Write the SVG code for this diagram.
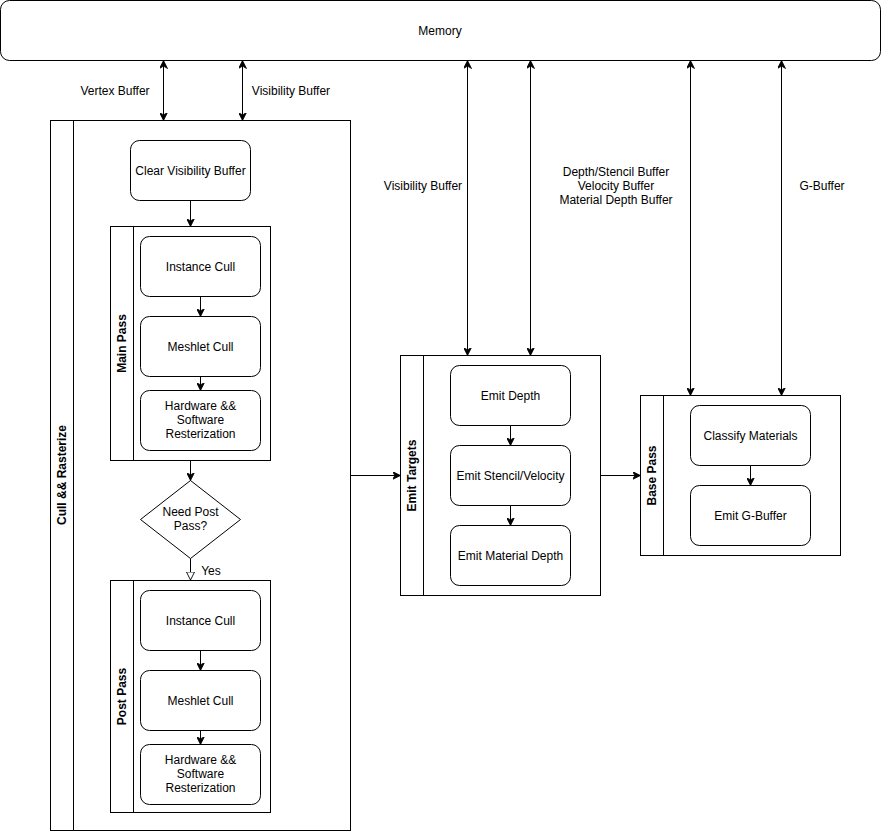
<svg xmlns="http://www.w3.org/2000/svg" width="882" height="832" viewBox="0 0 882 832">
<style>
.box{fill:#fff;stroke:#000;stroke-width:1}
.lane{fill:#fff;stroke:#000;stroke-width:1}
.t{font-family:"Liberation Sans",Arial,sans-serif;font-size:12px;fill:#000;text-anchor:middle}
.b{font-weight:bold}
.c{fill:none;stroke:#000;stroke-width:1}
</style>
<defs>
<marker id="ae" viewBox="0 0 10 10" refX="10" refY="5" markerWidth="8" markerHeight="8" markerUnits="userSpaceOnUse" orient="auto">
<path d="M0,0 L10,5 L0,10 L3,5 Z" fill="#000" stroke="#000" stroke-width="1"/>
</marker>
<marker id="as" viewBox="0 0 10 10" refX="10" refY="5" markerWidth="8" markerHeight="8" markerUnits="userSpaceOnUse" orient="auto-start-reverse">
<path d="M0,0 L10,5 L0,10 L3,5 Z" fill="#000" stroke="#000" stroke-width="1"/>
</marker>
<marker id="hb" viewBox="0 0 10 10" refX="10" refY="5" markerWidth="9" markerHeight="9" markerUnits="userSpaceOnUse" orient="auto">
<path d="M0.5,0.5 L9.5,5 L0.5,9.5 Z" fill="#fff" stroke="#000" stroke-width="1"/>
</marker>
</defs>

<g id="memory">
<rect class="box" x="0.5" y="0.5" width="880" height="60" rx="9"/>
<text class="t" x="440" y="35">Memory</text>
</g>

<g id="cull-rasterize">
<rect class="lane" x="50.5" y="120.5" width="300" height="710"/>
<line class="c" x1="73.5" y1="120.5" x2="73.5" y2="830.5"/>
<text class="t b" transform="translate(66,475) rotate(-90)">Cull &amp;&amp; Rasterize</text>
</g>

<g id="clear-vb">
<rect class="box" x="130.5" y="140.5" width="120" height="60" rx="9"/>
<text class="t" x="190.5" y="175">Clear Visibility Buffer</text>
</g>

<g id="main-pass">
<rect class="lane" x="110.5" y="226.5" width="160" height="234"/>
<line class="c" x1="133.5" y1="226.5" x2="133.5" y2="460.5"/>
<text class="t b" transform="translate(126,343.5) rotate(-90)">Main Pass</text>
</g>
<g id="main-instance-cull">
<rect class="box" x="140.5" y="236.5" width="120" height="60" rx="9"/>
<text class="t" x="200.5" y="271">Instance Cull</text>
</g>
<g id="main-meshlet-cull">
<rect class="box" x="140.5" y="316.5" width="120" height="60" rx="9"/>
<text class="t" x="200.5" y="351">Meshlet Cull</text>
</g>
<g id="main-hw-sw">
<rect class="box" x="140.5" y="390.5" width="120" height="60" rx="9"/>
<text class="t" x="200.5" y="410">Hardware &amp;&amp;</text>
<text class="t" x="200.5" y="424">Software</text>
<text class="t" x="200.5" y="438">Resterization</text>
</g>

<g id="need-post-pass">
<polygon class="box" points="190.5,480.5 240.5,519.5 190.5,558.5 140.5,519.5"/>
<text class="t" x="190.5" y="516">Need Post</text>
<text class="t" x="190.5" y="530">Pass?</text>
</g>

<g id="post-pass">
<rect class="lane" x="110.5" y="580.5" width="160" height="232"/>
<line class="c" x1="133.5" y1="580.5" x2="133.5" y2="812.5"/>
<text class="t b" transform="translate(126,696.5) rotate(-90)">Post Pass</text>
</g>
<g id="post-instance-cull">
<rect class="box" x="140.5" y="590.5" width="120" height="60" rx="9"/>
<text class="t" x="200.5" y="625">Instance Cull</text>
</g>
<g id="post-meshlet-cull">
<rect class="box" x="140.5" y="670.5" width="120" height="60" rx="9"/>
<text class="t" x="200.5" y="705">Meshlet Cull</text>
</g>
<g id="post-hw-sw">
<rect class="box" x="140.5" y="744.5" width="120" height="60" rx="9"/>
<text class="t" x="200.5" y="764">Hardware &amp;&amp;</text>
<text class="t" x="200.5" y="778">Software</text>
<text class="t" x="200.5" y="792">Resterization</text>
</g>

<g id="emit-targets">
<rect class="lane" x="400.5" y="355.5" width="200" height="240"/>
<line class="c" x1="423.5" y1="355.5" x2="423.5" y2="595.5"/>
<text class="t b" transform="translate(416,475.5) rotate(-90)">Emit Targets</text>
</g>
<g id="emit-depth">
<rect class="box" x="450.5" y="365.5" width="120" height="60" rx="9"/>
<text class="t" x="510.5" y="400">Emit Depth</text>
</g>
<g id="emit-stencil">
<rect class="box" x="450.5" y="445.5" width="120" height="60" rx="9"/>
<text class="t" x="510.5" y="480">Emit Stencil/Velocity</text>
</g>
<g id="emit-material-depth">
<rect class="box" x="450.5" y="525.5" width="120" height="60" rx="9"/>
<text class="t" x="510.5" y="560">Emit Material Depth</text>
</g>

<g id="base-pass">
<rect class="lane" x="640.5" y="395.5" width="200" height="160"/>
<line class="c" x1="663.5" y1="395.5" x2="663.5" y2="555.5"/>
<text class="t b" transform="translate(656,475.5) rotate(-90)">Base Pass</text>
</g>
<g id="classify-materials">
<rect class="box" x="690.5" y="405.5" width="120" height="60" rx="9"/>
<text class="t" x="750.5" y="440">Classify Materials</text>
</g>
<g id="emit-gbuffer">
<rect class="box" x="690.5" y="485.5" width="120" height="60" rx="9"/>
<text class="t" x="750.5" y="520">Emit G-Buffer</text>
</g>

<g id="connectors">
<line class="c" x1="163.5" y1="60.5" x2="163.5" y2="120.5" marker-start="url(#as)" marker-end="url(#ae)"/>
<line class="c" x1="242.5" y1="60.5" x2="242.5" y2="120.5" marker-start="url(#as)" marker-end="url(#ae)"/>
<line class="c" x1="467.5" y1="60.5" x2="467.5" y2="355.5" marker-start="url(#as)" marker-end="url(#ae)"/>
<line class="c" x1="530.5" y1="60.5" x2="530.5" y2="355.5" marker-start="url(#as)" marker-end="url(#ae)"/>
<line class="c" x1="690.5" y1="60.5" x2="690.5" y2="395.5" marker-start="url(#as)" marker-end="url(#ae)"/>
<line class="c" x1="781.5" y1="60.5" x2="781.5" y2="395.5" marker-start="url(#as)" marker-end="url(#ae)"/>
<line class="c" x1="190.5" y1="200.5" x2="190.5" y2="226.5" marker-end="url(#ae)"/>
<line class="c" x1="200.5" y1="296.5" x2="200.5" y2="316.5" marker-end="url(#ae)"/>
<line class="c" x1="200.5" y1="376.5" x2="200.5" y2="390.5" marker-end="url(#ae)"/>
<line class="c" x1="190.5" y1="460.5" x2="190.5" y2="480.5" marker-end="url(#ae)"/>
<line class="c" x1="190.5" y1="558.5" x2="190.5" y2="580.5" marker-end="url(#hb)"/>
<line class="c" x1="200.5" y1="650.5" x2="200.5" y2="670.5" marker-end="url(#ae)"/>
<line class="c" x1="200.5" y1="730.5" x2="200.5" y2="744.5" marker-end="url(#ae)"/>
<line class="c" x1="350.5" y1="475.5" x2="400.5" y2="475.5" marker-end="url(#ae)"/>
<line class="c" x1="510.5" y1="425.5" x2="510.5" y2="445.5" marker-end="url(#ae)"/>
<line class="c" x1="510.5" y1="505.5" x2="510.5" y2="525.5" marker-end="url(#ae)"/>
<line class="c" x1="600.5" y1="475.5" x2="640.5" y2="475.5" marker-end="url(#ae)"/>
<line class="c" x1="750.5" y1="465.5" x2="750.5" y2="485.5" marker-end="url(#ae)"/>
<text class="t" x="115" y="95">Vertex Buffer</text>
<text class="t" x="291" y="95">Visibility Buffer</text>
<text class="t" x="423" y="190">Visibility Buffer</text>
<text class="t" x="616" y="176">Depth/Stencil Buffer</text>
<text class="t" x="616" y="190">Velocity Buffer</text>
<text class="t" x="616" y="204">Material Depth Buffer</text>
<text class="t" x="822" y="190">G-Buffer</text>
<text class="t" x="211" y="575">Yes</text>
</g>
</svg>
